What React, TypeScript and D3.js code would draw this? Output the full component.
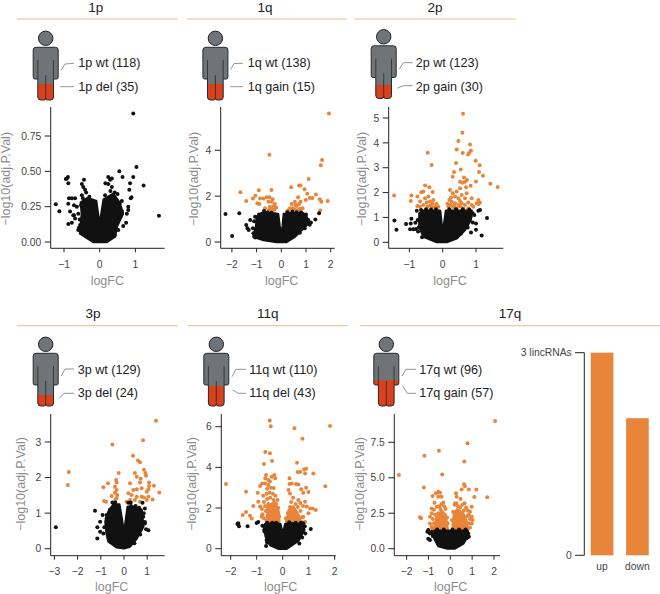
import React from "react";
import * as d3 from "d3";

type P = [number, number];

// ---------- data (logFC, -log10 adj.P.Val) ----------
const cloud1p: P[] = [[-.55,.06],[-.5,.2],[-.53,.28],[-.35,.31],[-.1,.29],[-.05,.2],[0,.12],[.05,.2],[.11,.3],[.18,.31],[.38,.34],[.55,.28],[.65,.2],[.48,.11],[.43,.04],[.2,0],[-.18,0]];
const black1p: P[] = [[.94,.91],[1.03,.53],[.55,.5],[.64,.46],[.94,.46],[1.23,.4],[.85,.415],[1.66,.186],[.83,.37],[.89,.316],[.87,.31],[-1.23,.267],[-1.13,.217],[-.95,.446],[-.89,.46],[-.92,.45],[-.88,.415],[-.44,.44],[-.86,.31],[-.69,.31],[-.78,.31],[-.88,.27],[-.72,.26],[-.83,.215],[-.74,.19],[-.88,.127],[-.78,.137],[-.6,.085],[-.55,.12],[-.69,.167],[.24,.46],[.29,.44],[.34,.45],[.16,.415],[.24,.41],[.34,.39],[.5,.34],[.62,.29],[.8,.25],[.76,.2],[.8,.226],[.74,.137],[.66,.113],[.52,.085],[.42,.047],[-.5,.41],[-.41,.37],[-.29,.32],[-.5,.33],[-.46,.39],[-.38,.35],[-.72,.19],[-.64,.25],[-.6,.2],[-.52,.26],[-.47,.31],[-.56,.16],[-.58,.1],[.56,.27],[.62,.22],[.52,.15],[.3,.36],[.42,.35],[.15,.33]];
const orange1p: P[] = [];

const cloud1q: P[] = [[-1.13,.23],[-1.02,.67],[-.99,1.1],[-.79,1.27],[-.46,1.25],[-.13,1.22],[-.07,.7],[0,.2],[.06,.7],[.1,1.22],[.35,1.25],[.89,1.25],[1.02,1.11],[1.1,.82],[.82,.52],[.55,.23],[.21,0],[-.19,0],[-.72,.09]];
const black1q: P[] = [[-2.26,1.22],[-1.7,1.25],[-1.99,.26],[1.38,.98],[1.53,1.25],[-1.42,.74],[-1.37,.6],[-1.26,.96],[-1.32,.52],[-1.13,.38],[-1.06,.2],[-.93,1.03],[-1.06,1.1],[1.09,.96],[-.9,1.2],[-.7,1.35],[-.55,1.3],[-.4,1.28],[-.25,1.2],[.25,1.3],[.45,1.33],[.62,1.3],[.8,1.3],[1,1.2],[1.15,.75],[1.2,.85],[.95,.6],[.75,.4],[-1.1,.9],[-1.15,.6],[-1.05,.4]];
const orange1q: P[] = [[1.93,5.6],[-.48,3.81],[1.65,3.58],[1.6,3.35],[1.11,2.75],[-1.66,2.17],[-.4,2.27],[-.91,2.26],[.4,2.39],[.72,2.46],[.78,2.47],[.94,2.3],[-1.05,2.02],[-1.15,1.9],[-1.42,1.79],[1.05,2.1],[1.4,2.07],[1.15,1.92],[1.26,1.92],[1.56,1.86],[1.62,1.76],[1.88,1.79],[1.58,1.37],[-.86,1.9],[-.72,1.9],[-.97,1.69],[-.89,1.66],[-.59,1.95],[-.48,1.95],[-.35,1.86],[-.52,1.76],[-.39,1.76],[-.26,1.66],[-.46,1.54],[-.3,1.57],[-.21,1.51],[-.66,1.47],[-.35,1.35],[.24,1.34],[.35,1.47],[.42,1.66],[.55,1.76],[.68,1.95],[.78,1.76],[.62,1.57],[.48,1.47],[.68,1.4],[.86,1.47],[.99,1.83],[.72,1.66],[-.4,1.45],[-.28,1.42],[-.5,1.4],[.3,1.4],[.55,1.42],[.75,1.45],[.58,1.62]];

const cloud2p: P[] = [[-.7,1.17],[-.58,1.27],[-.08,1.27],[-.04,.8],[0,.35],[.05,.8],[.1,1.27],[.87,1.27],[.84,.9],[.67,.5],[.42,.16],[.12,.01],[-.18,.01],[-.58,.23],[-.7,.63]];
const black2p: P[] = [[-1.45,.88],[-1.39,.5],[1.33,.98],[1.17,.27],[1,.5],[.85,.39],[-1.1,.74],[-.94,.95],[-.96,.76],[-.82,.79],[-.98,.52],[-.88,.52],[-.8,.54],[-.74,.43],[-.78,1.27],[1.12,1.3],[1.07,1.27],[.9,1.17],[.84,1.03],[1,.76],[-.65,1.3],[-.5,1.33],[-.35,1.32],[-.2,1.33],[.2,1.33],[.4,1.33],[.6,1.33],[.8,1.32],[.95,1.1],[.9,.8],[.75,.6],[.55,.35],[-.75,.9],[-.72,.6],[-.62,.2]];
const orange2p: P[] = [[.61,5.17],[.59,4.41],[.47,4.07],[.82,3.93],[.42,3.73],[.85,3.69],[.8,3.6],[.76,3.53],[.6,3.59],[-.45,3.6],[-.33,3.11],[.4,3.19],[.99,3.28],[1.11,3.1],[.54,2.93],[.34,2.83],[1.09,2.83],[1.21,2.68],[.3,2.64],[.64,2.61],[1.43,2.36],[1.65,2.22],[1,2.45],[.67,2.44],[.73,2.51],[.6,2.4],[.52,2.44],[-.53,2.28],[-.4,2.21],[-.58,2.04],[-.3,2.02],[-1.46,1.88],[-.94,1.88],[-.76,1.84],[-.96,1.66],[-.64,2.01],[-.76,1.46],[-.68,1.64],[-.53,1.77],[-.43,1.84],[-.38,1.64],[-.28,1.7],[-.18,1.54],[-.58,1.5],[-.46,1.43],[-.33,1.43],[-.23,1.41],[-.13,1.43],[-.68,1.43],[.22,2.1],[.3,1.97],[.42,2.04],[.52,2.17],[.7,2.21],[.84,2.27],[.37,1.84],[.47,1.77],[.57,1.9],[.72,1.97],[.2,1.7],[.27,1.64],[.37,1.57],[.47,1.5],[.57,1.57],[.67,1.5],[.77,1.6],[.87,1.5],[.17,1.43],[.32,1.41],[.42,1.37],[.62,1.37],[.77,1.37],[.92,1.43],[1.02,1.57],[1.07,1.7],[1.07,1.54],[1.12,1.6],[.67,1.77],[.2,1.5],[.87,1.77],[.25,1.8],[.52,1.66],[-.48,1.6],[-.3,1.55],[.14,1.55],[.25,1.5],[.35,1.46],[.52,1.45],[-.38,1.48],[-.2,1.45]];

const cloud3p: P[] = [[-.75,.43],[-.8,.76],[-.67,1.04],[-.46,1.24],[-.2,1.24],[-.1,.85],[0,.43],[.08,.8],[.16,1.18],[.4,1.18],[.76,1.1],[.83,.62],[.55,.29],[.26,.06],[0,.01],[-.32,.04],[-.67,.2]];
const black3p: P[] = [[-2.94,.6],[-1.25,1.07],[-1.15,.29],[-1.15,.6],[-1.03,.76],[-.92,.95],[-.75,.95],[-1.03,.48],[-.89,.43],[-.6,.2],[1.05,.52],[.9,.71],[.83,.9],[.9,1.13],[.19,1.29],[.29,1.3],[.8,1.29],[-.5,1.3],[-.38,1.3],[-.6,1.1],[-.75,.85],[-.85,.6],[.3,1.2],[.5,1.2],[.65,1.15],[.85,1],[.9,.75],[.95,.55],[.7,.4],[.45,.15]];
const orange3p: P[] = [[1.38,3.6],[.82,3.05],[-.5,2.93],[.39,2.61],[.6,2.48],[.69,2.43],[-2.38,2.16],[-2.42,1.79],[-.23,2.13],[.47,2.13],[.86,2.22],[.92,2.13],[.95,2.05],[.55,2.02],[.72,1.97],[-.34,1.93],[-.32,1.86],[-.69,1.84],[-.89,1.73],[-.39,1.74],[-.32,1.65],[-.39,1.57],[-.29,1.51],[-.53,1.48],[-.86,1.34],[-.77,1.32],[-.37,1.37],[-.32,1.42],[.26,1.84],[.69,1.86],[1.08,1.86],[1.08,1.76],[1.29,1.77],[1.52,1.58],[1.23,1.38],[1.05,1.67],[.98,1.6],[.76,1.7],[.4,1.65],[.55,1.67],[.19,1.56],[.33,1.51],[.55,1.46],[.76,1.46],[.98,1.37],[.11,1.32],[.26,1.37],[.47,1.37],[.69,1.32],[.86,1.44],[1.05,1.46]];

const cloud11q: P[] = [[-.72,1.08],[-.65,.59],[-.49,.18],[-.17,0],[.15,0],[.6,.39],[.83,.92],[.79,1.21],[.28,1.25],[.1,1.21],[0,.7],[-.09,1.21],[-.23,1.25],[-.68,1.21]];
const black11q: P[] = [[-1.71,1.25],[-1.68,1.11],[-1.74,1.21],[-1.35,1.1],[-1,1.26],[-.94,1.31],[-.78,1.13],[1.08,.97],[.87,.75],[.64,.26],[-.64,.13],[-.62,.43],[-.55,.67],[-.71,.92],[.79,1.25],[-.6,1.28],[-.4,1.28],[-.25,1.28],[.25,1.3],[.5,1.28],[.7,1.28],[.85,1.1],[.75,.55],[-.7,.85],[-.6,.3]];
const orange11q: P[] = [[-.5,6.3],[-.46,6.02],[.45,5.92],[1.82,6.03],[.76,5.41],[-.67,4.75],[-.49,4.69],[-.72,4.16],[-.41,4.31],[.55,4.23],[-2.18,3.18],[1.64,3.07],[.82,3.9],[.9,3.93],[.58,3.77],[.67,3.77],[.86,3.7],[1.18,3.7],[-1.41,2.8],[-.96,2.75],[-.87,3.08],[-.79,3.21],[-.64,3.62],[-.67,3.46],[-.55,3.38],[-.68,3.21],[-.55,3.13],[-.42,3.54],[-.32,3.62],[-.49,3.3],[-.29,3.46],[.26,3.46],[.35,3.21],[.51,3.18],[.6,3.16],[.26,3.18],[.9,3],[.71,2.92],[.79,2.75],[.99,2.79],[.22,2.89],[.28,2.72],[-1.13,2.1],[-1.41,1.8],[-1.54,1.66],[-1.26,1.62],[-1.19,1.49],[.86,2.31],[.92,2.07],[1.05,1.98],[1.15,1.98],[1.27,1.9],[.99,1.74],[.79,1.57],[.86,1.33],[.6,2.39],[-.87,2.07],[-.81,1.57],[-.94,2.31],[-.6,2.95],[-.45,3],[-.35,2.98],
  [-.75,2.6],[-.62,2.7],[-.5,2.75],[-.38,2.7],[-.28,2.6],[-.2,2.4],[-.72,2.3],[-.6,2.45],[-.48,2.5],[-.35,2.4],[-.25,2.2],[-.17,2],[-.8,1.95],[-.68,2.1],[-.55,2.2],[-.42,2.15],[-.3,2],[-.78,1.7],[-.65,1.85],[-.5,1.9],[-.38,1.85],[-.22,1.75],[-.14,1.6],[-.72,1.5],[-.58,1.6],[-.45,1.65],[-.3,1.55],[-.62,1.38],[-.4,1.4],[-.18,1.4],
  [.12,1.5],[.2,1.75],[.28,2.05],[.33,2.3],[.4,2.5],[.25,1.45],[.35,1.7],[.43,1.95],[.5,2.2],[.58,2.05],[.45,1.5],[.55,1.7],[.68,1.85],[.78,2.1],[.62,1.45],[.75,1.55],[.68,2.25],[.7,1.35],[.4,1.35],[.16,1.35],[.52,1.4],[.3,1.5]];
const mass11qLeft: P[] = [[-.6,1.3],[-.6,2.1],[-.3,2.3],[-.14,1.8],[-.12,1.3]];
const mass11qRight: P[] = [[.14,1.3],[.22,1.9],[.4,2.1],[.5,1.9],[.65,1.6],[.65,1.3]];

const cloud17q: P[] = [[-.73,1.26],[.79,1.26],[.82,.96],[.6,.38],[.21,.02],[-.17,.02],[-.55,.19],[-.73,.73]];
const black17q: P[] = [[-1.01,1.31],[-1.05,1.2],[-.93,1.08],[-1.01,.7],[-.93,.61],[-.85,1.2],[-.8,.9],[.82,1.08],[.75,.73],[-.6,1.35],[-.3,1.35],[.1,1.35],[.4,1.35],[.7,1.35],[.85,.85],[-.78,1]];
const orange17q: P[] = [[2.05,9.01],[.79,7.44],[-.52,6.9],[-1.18,6.55],[.64,6.15],[-2.35,5.19],[-.37,5.23],[-1.21,4.32],[.63,4.55],[.67,4.41],[.52,4.18],[.85,4.18],[1.19,4.18],[.26,3.9],[.29,3.66],[1.1,3.64],[1.69,3.62],[.47,3.5],[-.55,4.01],[-.66,3.9],[-.47,3.94],[-.81,3.71],[-.55,3.66],[-.4,3.66],[-.72,3.24],[-1.39,2.21],[-1.34,2.14],[.98,2.96],[.9,2.61],[.98,2.25],[1.02,2.02],[.98,1.78],[.82,1.43],[-.85,2.84],[-.93,2.25],[-.93,1.78],[.21,3.19],[-.85,1.55],
  [-.85,2.5],[-.75,2.75],[-.62,2.95],[-.5,3],[-.4,3.15],[-.32,3.25],[-.28,3],[-.22,2.8],[-.45,2.8],[-.7,2.4],[-.8,2.1],[-.55,2.5],[-.75,1.8],[-.83,1.45],[-.15,2.2],[-.12,1.8],
  [.13,2.6],[.2,3.1],[.28,3.2],[.35,3],[.45,2.9],[.55,3.1],[.65,3.2],[.72,2.9],[.8,2.7],[.85,2.4],[.9,2.1],[.85,1.8],[.78,2.3],[.62,2.7],[.42,2.6],[.9,1.5],[.08,2]];
const mass17qLeft: P[] = [[-.75,1.3],[-.65,2.2],[-.4,2.7],[-.2,2.4],[-.1,1.3]];
const mass17qRight: P[] = [[.08,1.3],[.15,2.4],[.3,2.8],[.6,2.5],[.75,2],[.8,1.3]];

const barCategories = ["up", "down"];
const barValues = [3, 2.03];

const ticksX1 = [-1, 0, 1];
const ticksX2 = [-2, -1, 0, 1, 2];
const ticksX3 = [-3, -2, -1, 0, 1];
const ticksY1p = [0, 0.25, 0.5, 0.75];
const ticksY1q = [0, 2, 4];
const ticksY2p = [0, 1, 2, 3, 4, 5];
const ticksY3p = [0, 1, 2, 3];
const ticksY11q = [0, 2, 4, 6];
const ticksY17q = [0, 2.5, 5, 7.5];

// ---------- layout ----------
const FONT = "'Liberation Sans', Arial, sans-serif";
const BLACK = "#111111";
const ORANGE = "#E8853A";
const RED = "#D8401E";
const RULE = "#F2B98A";
const TICK_TEXT = "#444444";
const LABEL_GREY = "#8d8d8d";

interface Panel {
  title: string; titleX: number;
  wt: string; alt: string; labelX: number;
  iconDx: number; iconDy: number; redH: number;
  conn: [string, string];
  ox: number; row: 0 | 1;
  xDom: [number, number]; xRange: [number, number];
  yDom: [number, number]; yRange: [number, number];
  left: number; right: number; top: number; bottom: number;
  xTicks: number[]; yTicks: number[]; yFmt: (v: number) => string;
  xLabelX: number; yLabelX: number;
  cloud: P[]; masses: P[][]; black: P[]; orange: P[];
}

const f0 = (v: number) => d3.format("d")(v).replace("-", "−");
const fx = f0;

const panels: Panel[] = [
  { title: "1p", titleX: 95.7, wt: "1p wt (118)", alt: "1p del (35)", labelX: 78.3, iconDx: 0, iconDy: 0, redH: 16,
    conn: ["M61.3 70L65 64L74 63.3", "M60.3 86.7H74"], ox: 0, row: 0,
    xDom: [0, 1], xRange: [99.7, 135.4], yDom: [0, .75], yRange: [242, 136],
    left: 50.7, right: 164.7, top: 107, bottom: 248.3, xTicks: ticksX1, yTicks: ticksY1p, yFmt: d3.format(".2f"),
    xLabelX: 107.3, yLabelX: 10, cloud: cloud1p, masses: [], black: black1p, orange: orange1p },
  { title: "1q", titleX: 265, wt: "1q wt (138)", alt: "1q gain (15)", labelX: 247.7, iconDx: 169.7, iconDy: 0, redH: 16,
    conn: ["M230.7 69.5L234 63.5L243 63.3", "M230.3 86.7H243"], ox: 170, row: 0,
    xDom: [0, 1], xRange: [281.3, 306], yDom: [0, 4], yRange: [242, 150.3],
    left: 220.7, right: 334.7, top: 107, bottom: 248.3, xTicks: ticksX2, yTicks: ticksY1q, yFmt: f0,
    xLabelX: 281.7, yLabelX: 198, cloud: cloud1q, masses: [], black: black1q, orange: orange1q },
  { title: "2p", titleX: 435, wt: "2p wt (123)", alt: "2p gain (30)", labelX: 415.7, iconDx: 338, iconDy: -1.5, redH: 13.5,
    conn: ["M399.3 69.3L403.3 62.7L412.7 62.7", "M397.3 88.3L403.3 85.7L412.7 85.7"], ox: 340, row: 0,
    xDom: [0, 1], xRange: [442.7, 476], yDom: [0, 5], yRange: [242.3, 118],
    left: 388.7, right: 503.3, top: 107, bottom: 248.3, xTicks: ticksX1, yTicks: ticksY2p, yFmt: f0,
    xLabelX: 450, yLabelX: 365.7, cloud: cloud2p, masses: [], black: black2p, orange: orange2p },
  { title: "3p", titleX: 93, wt: "3p wt (129)", alt: "3p del (24)", labelX: 77.7, iconDx: 0, iconDy: 306, redH: 11,
    conn: ["M61.3 376L65 369L74 369", "M59.3 398.3L64 393.3L74 393.3"], ox: 0, row: 1,
    xDom: [0, 1], xRange: [124, 147.2], yDom: [0, 3], yRange: [548.7, 442],
    left: 50.7, right: 164.7, top: 414, bottom: 555.7, xTicks: ticksX3, yTicks: ticksY3p, yFmt: f0,
    xLabelX: 111.7, yLabelX: 24.7, cloud: cloud3p, masses: [], black: black3p, orange: orange3p },
  { title: "11q", titleX: 267.7, wt: "11q wt (110)", alt: "11q del (43)", labelX: 249.3, iconDx: 170.6, iconDy: 306, redH: 20,
    conn: ["M232 376.7L236 369.3L246 369.3", "M232.7 390L238.3 393.3L246 393.3"], ox: 170, row: 1,
    xDom: [0, 1], xRange: [282.7, 308.7], yDom: [0, 6], yRange: [548.7, 426.7],
    left: 221.3, right: 335.7, top: 414, bottom: 555.7, xTicks: ticksX2, yTicks: ticksY11q, yFmt: f0,
    xLabelX: 280.7, yLabelX: 195.7, cloud: cloud11q, masses: [mass11qLeft, mass11qRight], black: black11q, orange: orange11q },
  { title: "17q", titleX: 510, wt: "17q wt (96)", alt: "17q gain (57)", labelX: 419.3, iconDx: 340.6, iconDy: 306, redH: 25.7,
    conn: ["M402 376L406 369.3L416 369.3", "M402.7 386L407.3 393.3L416 393.3"], ox: 340, row: 1,
    xDom: [0, 1], xRange: [450.3, 472.15], yDom: [0, 7.5], yRange: [548.7, 442.3],
    left: 394.3, right: 500, top: 414, bottom: 555.7, xTicks: ticksX2, yTicks: ticksY17q, yFmt: d3.format(".1f"),
    xLabelX: 450.7, yLabelX: 364, cloud: cloud17q, masses: [mass17qLeft, mass17qRight], black: black17q, orange: orange17q },
];

const rules: [number, number, number][] = [
  [17, 178, 19], [186.7, 347.3, 19], [355, 515.7, 19],
  [17, 178, 325.7], [187.7, 348, 325.7], [360, 660, 325.7],
];

const BODY = "M36 47.3H55.5Q58.2 47.3 58.2 50V77Q58.2 79 56.5 79H53.5V97Q53.5 100 50.5 100H47.5Q45.7 100 45.7 98Q45.7 100 44 100H41Q37.8 100 37.8 97V79H35Q33.2 79 33.2 77V50Q33.2 47.3 36 47.3Z";

function Person({ p, i }: { p: Panel; i: number }) {
  return (
    <g transform={`translate(${p.iconDx},${p.iconDy})`}>
      <clipPath id={`body${i}`}><path d={BODY} /></clipPath>
      <circle cx={45.7} cy={38.3} r={7.2} fill="#6f7478" stroke="#222" strokeWidth={1} />
      <path d={BODY} fill="#6f7478" />
      <rect x={30} y={100 - p.redH} width={32} height={p.redH + 1} fill={RED} clipPath={`url(#body${i})`} />
      <path d={BODY} fill="none" stroke="#2a2a2a" strokeWidth={1} />
      <path d="M37.8 60V79M53.5 60V79M45.7 75V99" fill="none" stroke="#2a2a2a" strokeWidth={0.8} />
    </g>
  );
}

function Volcano({ p }: { p: Panel }) {
  const x = d3.scaleLinear().domain(p.xDom).range(p.xRange);
  const y = d3.scaleLinear().domain(p.yDom).range(p.yRange);
  const poly = d3.line<P>().x((d) => x(d[0])).y((d) => y(d[1])).curve(d3.curveLinearClosed);
  const tb = p.row === 0 ? 268 : 575;
  const lb = p.row === 0 ? 284.5 : 591;
  const ymid = p.row === 0 ? 178.8 : 484;
  return (
    <g>
      <path d={`M${p.left} ${p.top}V${p.bottom}H${p.right}`} fill="none" stroke="#222" strokeWidth={1} />
      {p.yTicks.map((t) => (
        <g key={t}>
          <line x1={p.left - 6} x2={p.left} y1={y(t)} y2={y(t)} stroke="#222" strokeWidth={1} />
          <text x={p.left - 9.5} y={y(t) + 3.7} textAnchor="end" fontSize={10.3} fill={TICK_TEXT}>{p.yFmt(t)}</text>
        </g>
      ))}
      {p.xTicks.map((t) => (
        <g key={t}>
          <line x1={x(t)} x2={x(t)} y1={p.bottom} y2={p.bottom + 4} stroke="#222" strokeWidth={1} />
          <text x={x(t)} y={tb} textAnchor="middle" fontSize={10.3} fill={TICK_TEXT}>{fx(t)}</text>
        </g>
      ))}
      <text x={p.xLabelX} y={lb} textAnchor="middle" fontSize={12.5} fill={LABEL_GREY}>logFC</text>
      <text transform={`translate(${p.yLabelX},${ymid}) rotate(-90)`} textAnchor="middle" fontSize={12.5} fill={LABEL_GREY}>−log10(adj.P.Val)</text>
      {p.masses.map((m, k) => (
        <path key={k} d={poly(m) ?? ""} fill={ORANGE} stroke={ORANGE} strokeWidth={2} strokeLinejoin="round" />
      ))}
      {p.orange.map((d, k) => <circle key={k} cx={x(d[0])} cy={y(d[1])} r={2} fill={ORANGE} />)}
      <path d={poly(p.cloud) ?? ""} fill={BLACK} stroke={BLACK} strokeWidth={2.5} strokeLinejoin="round" />
      {p.black.map((d, k) => <circle key={k} cx={x(d[0])} cy={y(d[1])} r={2} fill={BLACK} />)}
    </g>
  );
}

function Bars() {
  const axisX = 584.3;
  const y = d3.scaleLinear().domain([0, 3]).range([555.3, 352.7]);
  const xb = d3.scaleBand<string>().domain(barCategories).range([586.5, 653]).paddingInner(0.36).paddingOuter(0.12);
  return (
    <g>
      {barCategories.map((c, i) => (
        <g key={c}>
          <rect x={xb(c)} y={y(barValues[i])} width={xb.bandwidth()} height={y(0) - y(barValues[i])} fill={ORANGE} />
          <text x={(xb(c) ?? 0) + xb.bandwidth() / 2} y={569.5} textAnchor="middle" fontSize={10.3} fill={TICK_TEXT}>{c}</text>
        </g>
      ))}
      <path d={`M575 ${y(3)}H${axisX}V${y(0)}H575`} fill="none" stroke="#222" strokeWidth={1} />
      <text x={571.7} y={y(3) + 3.7} textAnchor="end" fontSize={10.3} fill={TICK_TEXT}>3 lincRNAs</text>
      <text x={571.7} y={y(0) + 3.7} textAnchor="end" fontSize={10.3} fill={TICK_TEXT}>0</text>
    </g>
  );
}

export default function App() {
  return (
    <svg width={660} height={594} viewBox="0 0 660 594"
      style={{ position: "absolute", left: 0, top: 0, fontFamily: FONT, background: "#fff" }}>
      {rules.map((r, i) => <line key={i} x1={r[0]} x2={r[1]} y1={r[2]} y2={r[2]} stroke={RULE} strokeWidth={1} />)}
      {panels.map((p, i) => (
        <g key={p.title}>
          <text x={p.titleX} y={p.row === 0 ? 12.3 : 317.5} textAnchor="middle" fontSize={13.5} fill="#222">{p.title}</text>
          <Person p={p} i={i} />
          <path d={p.conn[0]} fill="none" stroke="#888" strokeWidth={0.9} />
          <path d={p.conn[1]} fill="none" stroke="#888" strokeWidth={0.9} />
          <text x={p.labelX} y={p.row === 0 ? 66.7 : 373.5} fontSize={12.6} fill="#222">{p.wt}</text>
          <text x={p.labelX} y={p.row === 0 ? 90.5 : 397} fontSize={12.6} fill="#222">{p.alt}</text>
          <Volcano p={p} />
        </g>
      ))}
      <Bars />
    </svg>
  );
}
